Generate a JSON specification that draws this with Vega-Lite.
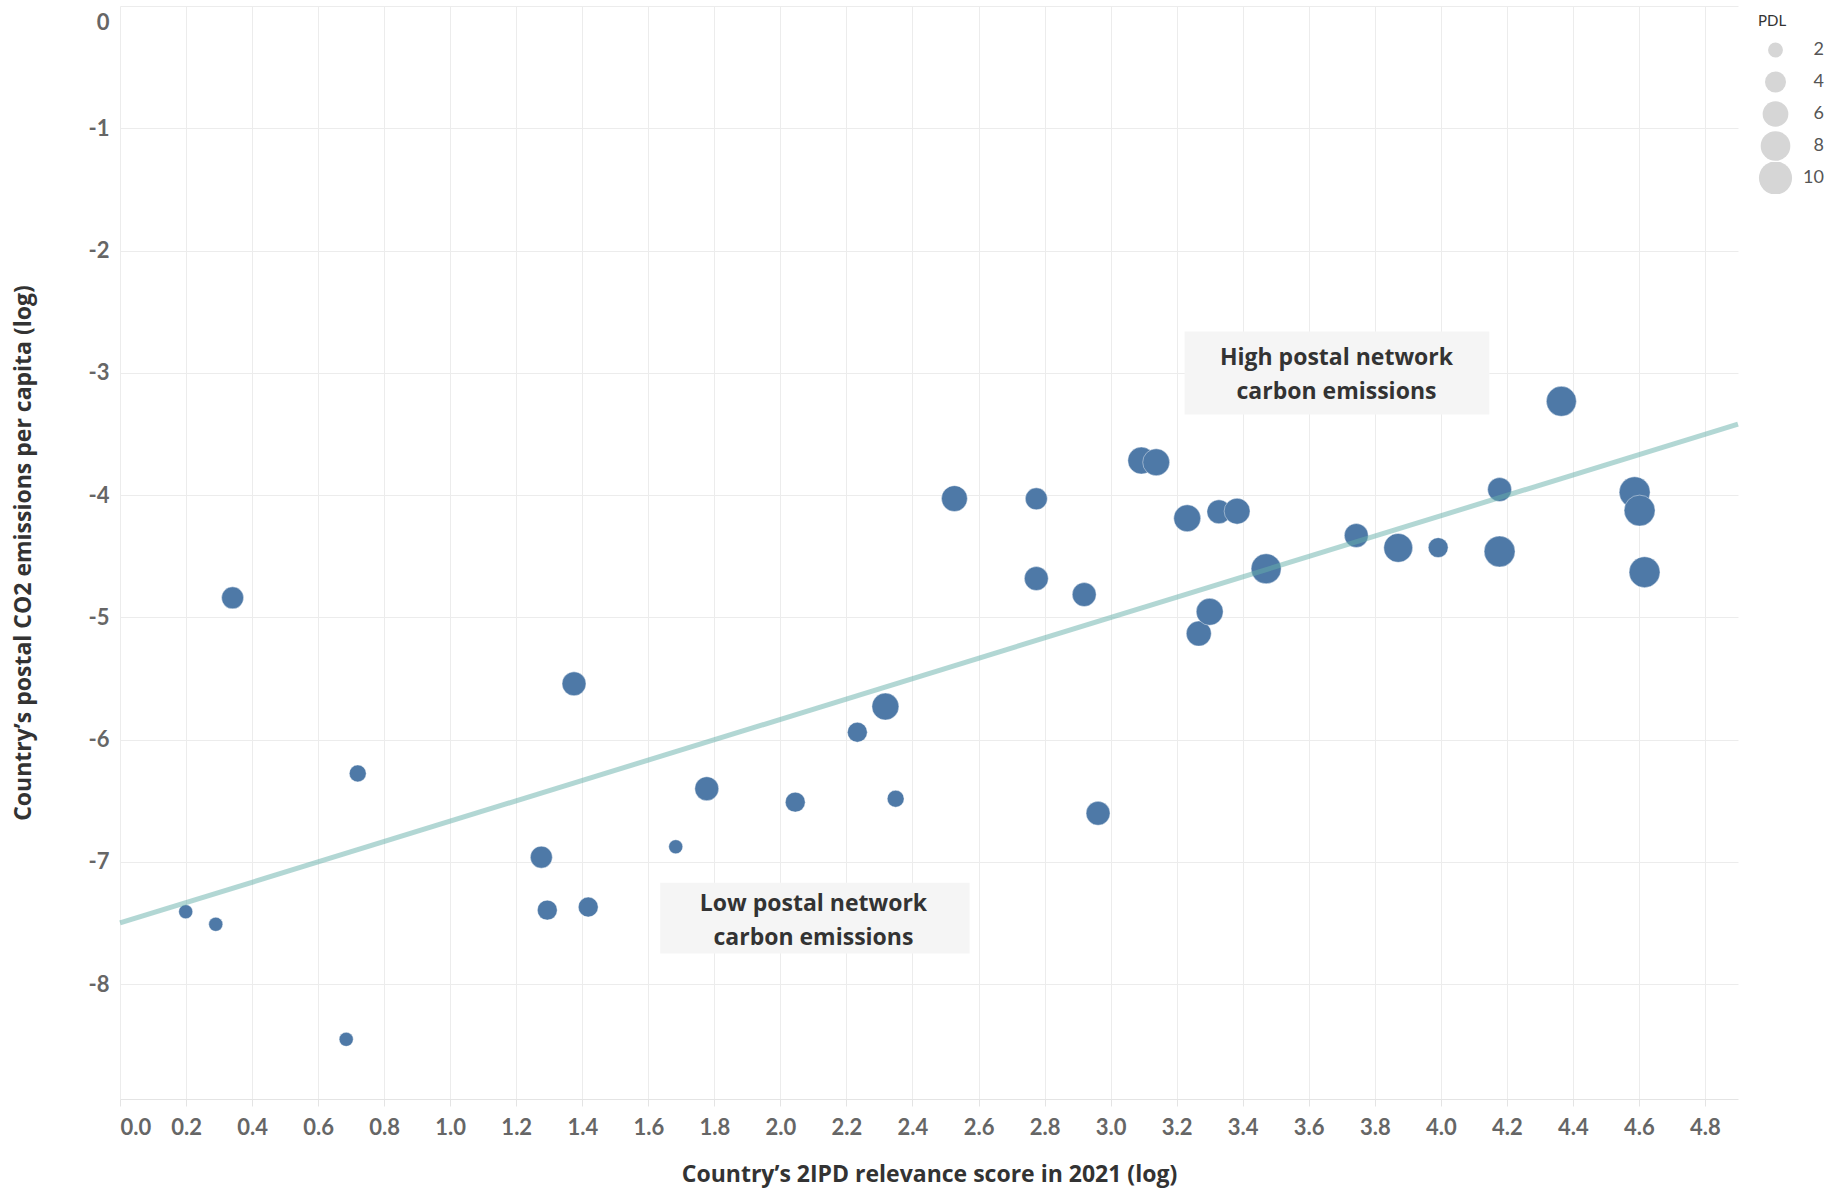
{
  "$schema": "https://vega.github.io/schema/vega-lite/v6.json",
  "width": 1618,
  "height": 1093,
  "autosize": {"type": "none"},
  "padding": {"left": 120, "top": 6, "right": 96, "bottom": 89},
  "background": "white",
  "config": {"font": "Lato", "view": {"stroke": null}},
  "datasets": {
    "points": [
      {"score": 0.199, "co2": -7.408, "PDL": 1.8},
      {"score": 0.290, "co2": -7.511, "PDL": 1.8},
      {"score": 0.341, "co2": -4.841, "PDL": 4.4},
      {"score": 0.685, "co2": -8.452, "PDL": 1.8},
      {"score": 0.720, "co2": -6.277, "PDL": 2.6},
      {"score": 1.276, "co2": -6.962, "PDL": 4.4},
      {"score": 1.294, "co2": -7.395, "PDL": 3.6},
      {"score": 1.375, "co2": -5.544, "PDL": 5.2},
      {"score": 1.418, "co2": -7.370, "PDL": 3.6},
      {"score": 1.683, "co2": -6.877, "PDL": 1.8},
      {"score": 1.777, "co2": -6.402, "PDL": 5.2},
      {"score": 2.045, "co2": -6.512, "PDL": 3.6},
      {"score": 2.233, "co2": -5.940, "PDL": 3.6},
      {"score": 2.318, "co2": -5.730, "PDL": 6.6},
      {"score": 2.349, "co2": -6.484, "PDL": 2.6},
      {"score": 2.527, "co2": -4.029, "PDL": 6.1},
      {"score": 2.775, "co2": -4.031, "PDL": 4.4},
      {"score": 2.775, "co2": -4.683, "PDL": 5.2},
      {"score": 2.920, "co2": -4.814, "PDL": 5.2},
      {"score": 2.962, "co2": -6.603, "PDL": 5.2},
      {"score": 3.093, "co2": -3.718, "PDL": 6.6},
      {"score": 3.138, "co2": -3.732, "PDL": 6.6},
      {"score": 3.232, "co2": -4.190, "PDL": 6.6},
      {"score": 3.267, "co2": -5.133, "PDL": 5.7},
      {"score": 3.300, "co2": -4.955, "PDL": 6.6},
      {"score": 3.328, "co2": -4.137, "PDL": 5.2},
      {"score": 3.383, "co2": -4.132, "PDL": 6.1},
      {"score": 3.471, "co2": -4.603, "PDL": 8.2},
      {"score": 3.744, "co2": -4.331, "PDL": 5.2},
      {"score": 3.871, "co2": -4.432, "PDL": 7.6},
      {"score": 3.992, "co2": -4.430, "PDL": 3.6},
      {"score": 4.178, "co2": -3.955, "PDL": 5.2},
      {"score": 4.178, "co2": -4.462, "PDL": 8.7},
      {"score": 4.365, "co2": -3.233, "PDL": 8.2},
      {"score": 4.587, "co2": -3.977, "PDL": 8.7},
      {"score": 4.602, "co2": -4.127, "PDL": 8.7},
      {"score": 4.617, "co2": -4.631, "PDL": 8.7}
    ],
    "trend": [
      {"score": 0, "co2": -7.50},
      {"score": 4.9, "co2": -3.42}
    ],
    "notes": [
      {"x1": 3.224, "x2": 4.147, "y1": -2.663, "y2": -3.342, "tx": 3.684, "ty": -2.880, "label": "High postal network\ncarbon emissions"},
      {"x1": 1.636, "x2": 2.573, "y1": -7.171, "y2": -7.749, "tx": 2.100, "ty": -7.349, "label": "Low postal network\ncarbon emissions"}
    ]
  },
  "layer": [
    {
      "data": {"name": "notes"},
      "mark": {"type": "rect", "fill": "#f5f5f5"},
      "encoding": {
        "x": {"field": "x1", "type": "quantitative"},
        "x2": {"field": "x2"},
        "y": {"field": "y1", "type": "quantitative"},
        "y2": {"field": "y2"}
      }
    },
    {
      "data": {"name": "notes"},
      "mark": {"type": "text", "lineBreak": "\n", "font": "Open Sans", "fontSize": 23, "fontWeight": "bold", "color": "#333333", "lineHeight": 34, "align": "center", "baseline": "middle"},
      "encoding": {
        "x": {"field": "tx", "type": "quantitative"},
        "y": {"field": "ty", "type": "quantitative"},
        "text": {"field": "label", "type": "nominal"}
      }
    },
    {
      "mark": {"type": "rule", "color": "#bbbbbb", "strokeDash": [1, 3], "strokeWidth": 1},
      "encoding": {"y": {"datum": 0, "type": "quantitative"}}
    },
    {
      "data": {"name": "points"},
      "transform": [{"filter": "false"}],
      "mark": {"type": "circle", "color": "#d6d6d6", "opacity": 1, "stroke": "#9a9a9a", "strokeWidth": 1.5},
      "encoding": {
        "x": {"field": "score", "type": "quantitative"},
        "y": {"field": "co2", "type": "quantitative"},
        "size": {
          "field": "PDL", "type": "quantitative",
          "scale": {"domain": [0, 10], "range": [0, 1100]},
          "legend": {
            "orient": "none", "legendX": 1638, "legendY": 8,
            "title": "PDL", "values": [2, 4, 6, 8, 10],
            "titleFont": "Lato", "titleFontSize": 15, "titleFontWeight": "normal", "titleColor": "#333333", "titlePadding": 5,
            "labelFont": "Lato", "labelFontSize": 18, "labelColor": "#555555",
            "labelAlign": "right", "labelOffset": 31,
            "gridAlign": "all", "clipHeight": 32, "rowPadding": 0,
            "symbolFillColor": "#d6d6d6", "symbolStrokeColor": "#9a9a9a", "symbolStrokeWidth": 1.5, "symbolOpacity": 1
          }
        }
      }
    },
    {
      "data": {"name": "points"},
      "mark": {"type": "circle", "color": "#4e79a7", "opacity": 1, "stroke": "#ffffff", "strokeWidth": 0.6, "strokeOpacity": 0.7},
      "encoding": {
        "x": {
          "field": "score", "type": "quantitative",
          "scale": {"domain": [0, 4.9], "nice": false, "zero": false},
          "axis": {
            "title": "Country\u2019s 2IPD relevance score in 2021 (log)",
            "values": [0, 0.2, 0.4, 0.6, 0.8, 1.0, 1.2, 1.4, 1.6, 1.8, 2.0, 2.2, 2.4, 2.6, 2.8, 3.0, 3.2, 3.4, 3.6, 3.8, 4.0, 4.2, 4.4, 4.6, 4.8],
            "format": ".1f",
            "grid": true, "gridColor": "#ececec", "gridWidth": 1,
            "domain": true, "domainColor": "#e4e4e4",
            "ticks": true, "tickColor": "#e4e4e4", "tickSize": 7,
            "labelFont": "Lato", "labelFontSize": 22, "labelFontWeight": "bold", "labelColor": "#666666",
            "labelPadding": 11, "labelFlush": true, "labelOverlap": false,
            "titleFont": "Open Sans", "titleFontSize": 23, "titleFontWeight": "bold", "titleColor": "#333333",
            "titleY": 75, "titleBaseline": "middle"
          }
        },
        "y": {
          "field": "co2", "type": "quantitative",
          "scale": {"domain": [-8.94, 0], "nice": false, "zero": false},
          "axis": {
            "title": "Country\u2019s postal CO2 emissions per capita (log)",
            "values": [0, -1, -2, -3, -4, -5, -6, -7, -8],
            "labelExpr": "datum.value + ''",
            "grid": true, "gridColor": "#ececec", "gridWidth": 1,
            "domain": false, "ticks": false,
            "labelFont": "Lato", "labelFontSize": 22, "labelFontWeight": "bold", "labelColor": "#666666",
            "labelPadding": 11, "labelFlush": true, "labelFlushOffset": -6,
            "titleFont": "Open Sans", "titleFontSize": 23, "titleFontWeight": "bold", "titleColor": "#333333",
            "titleX": -97, "titleBaseline": "middle"
          }
        },
        "size": {
          "field": "PDL", "type": "quantitative",
          "legend": null
        }
      }
    },
    {
      "data": {"name": "trend"},
      "mark": {"type": "line", "color": "#66b0aa", "opacity": 0.5, "strokeWidth": 5},
      "encoding": {
        "x": {"field": "score", "type": "quantitative"},
        "y": {"field": "co2", "type": "quantitative"}
      }
    }
  ]
}
